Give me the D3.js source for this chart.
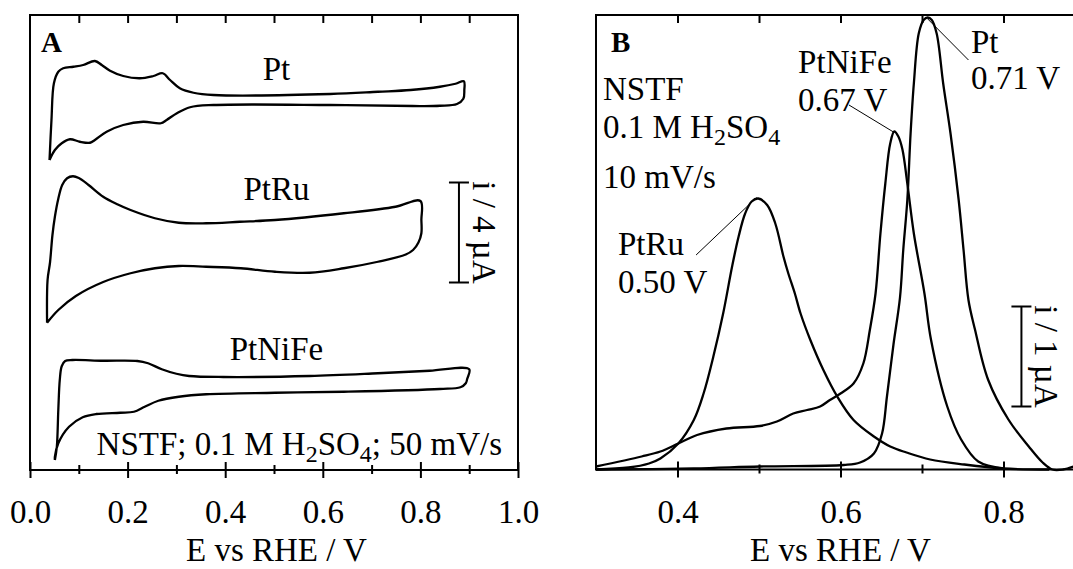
<!DOCTYPE html>
<html lang="en">
<head>
	<meta charset="UTF-8">
	<title>CV and CO stripping</title>
	<script src="https://cdn.jsdelivr.net/npm/d3@7"></script>
	<style>
		body { margin: 0; background: #fff; }
		text { font-family: "Liberation Serif", "Times New Roman", serif; fill: #000; }
	</style>
</head>
<body>
	<div id="container"></div>
	<script>
		var width = 1073, height = 569;

		// panel A: cyclic voltammograms (E / V, i / uA, curves stacked)
		var ptCV = [[0.040,12.40],[0.044,14.00],[0.049,15.47],[0.058,15.93],[0.068,16.07],[0.089,16.13],[0.109,16.20],[0.133,16.36],[0.147,16.20],[0.164,15.97],[0.191,15.76],[0.225,15.67],[0.253,15.76],[0.272,15.87],[0.287,15.60],[0.307,15.27],[0.335,15.09],[0.376,15.00],[0.615,15.04],[0.713,15.13],[0.780,15.20],[0.840,15.33],[0.872,15.45],[0.889,15.55],[0.890,15.20],[0.888,14.85],[0.875,14.64],[0.840,14.57],[0.784,14.56],[0.615,14.60],[0.376,14.60],[0.328,14.51],[0.301,14.27],[0.280,14.00],[0.268,13.87],[0.232,13.93],[0.191,13.80],[0.157,13.53],[0.133,13.20],[0.123,13.09],[0.102,13.13],[0.082,13.23],[0.065,13.07],[0.051,12.80],[0.040,12.40]];
		var ptruCV = [[0.035,5.89],[0.036,7.60],[0.041,8.30],[0.046,9.40],[0.051,10.13],[0.058,10.85],[0.066,11.40],[0.076,11.67],[0.088,11.75],[0.100,11.68],[0.120,11.40],[0.150,10.93],[0.180,10.62],[0.206,10.40],[0.256,10.07],[0.305,9.89],[0.361,9.87],[0.430,9.93],[0.502,10.00],[0.643,10.27],[0.749,10.53],[0.800,10.76],[0.802,10.00],[0.802,9.47],[0.796,9.10],[0.785,8.80],[0.770,8.62],[0.713,8.33],[0.643,8.07],[0.573,7.89],[0.502,7.93],[0.432,8.07],[0.361,8.13],[0.305,8.16],[0.256,8.07],[0.206,7.87],[0.150,7.52],[0.094,6.96],[0.058,6.40],[0.035,5.89]];
		var ptnifeCV = [[0.051,0.40],[0.055,0.93],[0.058,2.40],[0.061,3.60],[0.065,4.15],[0.072,4.36],[0.087,4.40],[0.150,4.37],[0.220,4.36],[0.242,4.27],[0.270,4.03],[0.300,3.85],[0.326,3.76],[0.396,3.72],[0.573,3.76],[0.713,3.87],[0.819,3.97],[0.900,4.03],[0.896,3.65],[0.893,3.47],[0.882,3.31],[0.840,3.24],[0.643,3.13],[0.502,3.09],[0.361,3.03],[0.305,2.93],[0.263,2.77],[0.235,2.53],[0.213,2.33],[0.185,2.29],[0.136,2.24],[0.108,2.11],[0.080,1.73],[0.058,1.07],[0.051,0.53],[0.051,0.40]];

		// panel B: CO stripping peaks
		var ptCO = [[0.300,0.00],[0.420,0.01],[0.501,0.03],[0.604,0.045],[0.624,0.07],[0.641,0.16],[0.651,0.36],[0.657,0.73],[0.665,1.25],[0.673,1.72],[0.677,2.195],[0.682,2.695],[0.686,3.36],[0.690,3.86],[0.696,4.36],[0.702,4.495],[0.707,4.52],[0.712,4.495],[0.718,4.36],[0.726,3.86],[0.735,3.36],[0.745,2.695],[0.751,2.195],[0.757,1.695],[0.765,1.40],[0.781,0.90],[0.806,0.50],[0.831,0.23],[0.848,0.07],[0.860,0.00],[0.873,0.00],[0.886,0.03]];
		var ptruCO = [[0.300,0.00],[0.340,0.02],[0.365,0.06],[0.379,0.11],[0.401,0.26],[0.420,0.495],[0.432,0.76],[0.444,1.13],[0.456,1.56],[0.467,2.03],[0.475,2.33],[0.483,2.56],[0.491,2.68],[0.499,2.71],[0.510,2.645],[0.520,2.46],[0.530,2.13],[0.536,1.96],[0.544,1.76],[0.551,1.56],[0.563,1.295],[0.579,0.995],[0.596,0.73],[0.616,0.495],[0.641,0.33],[0.661,0.23],[0.681,0.17],[0.710,0.10],[0.752,0.05],[0.800,0.01],[0.856,0.00]];
		var ptnifeCO = [[0.300,0.03],[0.356,0.13],[0.379,0.18],[0.401,0.26],[0.424,0.345],[0.460,0.41],[0.501,0.435],[0.522,0.48],[0.542,0.56],[0.559,0.595],[0.575,0.63],[0.587,0.695],[0.600,0.76],[0.616,0.86],[0.628,1.06],[0.636,1.395],[0.643,1.76],[0.649,2.36],[0.655,2.86],[0.661,3.26],[0.666,3.38],[0.671,3.33],[0.676,3.20],[0.682,2.86],[0.690,2.36],[0.703,1.76],[0.711,1.30],[0.731,0.63],[0.748,0.30],[0.769,0.08],[0.800,0.01]];

		var majorA = [0, 0.2, 0.4, 0.6, 0.8, 1.0];
		var minorA = [0.1, 0.3, 0.5, 0.7, 0.9];
		var majorB = [0.4, 0.6, 0.8];
		var minorB = [0.5, 0.7, 0.9];

		var cvNames = ["Pt", "PtRu", "PtNiFe"];
		var peakNames = ["Pt", "PtNiFe", "PtRu"];
		var peakLabels = ["0.71 V", "0.67 V", "0.50 V"];

		var svg = d3.select("#container").append("svg")
				.attr("width", width)
				.attr("height", height)
				.style("display", "block");
		svg.append("rect").attr("width", width).attr("height", height).attr("fill", "#fff");

		var xA = d3.scaleLinear().domain([0, 1]).range([30, 518]);
		var yA = d3.scaleLinear().domain([0, 18.2]).range([470, 15]);
		var xB = d3.scaleLinear().domain([0.3, 0.9]).range([596, 1085]);
		var yB = d3.scaleLinear().domain([0, 4.545]).range([469.5, 15]);

		var fs = 33;

		function frame(x, y) {
			svg.append("rect")
				.attr("x", x.range()[0]).attr("y", y.range()[1])
				.attr("width", x.range()[1] - x.range()[0])
				.attr("height", y.range()[0] - y.range()[1])
				.attr("fill", "none").attr("stroke", "#000").attr("stroke-width", 2);
		}

		function axes(x, y, major, minor, titleAt) {
			var base = y.range()[0], top = y.range()[1];
			var gb = svg.append("g").attr("transform", "translate(0," + base + ")")
				.call(d3.axisBottom(x).tickValues(major).tickSize(8).tickSizeOuter(0)
					.tickPadding(22).tickFormat(d3.format(".1f")));
			gb.selectAll(".tick line").attr("y1", -8).attr("stroke-width", 2);
			gb.selectAll(".tick text").attr("font-size", fs).attr("font-family", "Liberation Serif");
			gb.select(".domain").remove();

			var gm = svg.append("g").attr("transform", "translate(0," + base + ")")
				.call(d3.axisBottom(x).tickValues(minor).tickSize(4).tickSizeOuter(0).tickFormat(""));
			gm.selectAll(".tick line").attr("y1", -5).attr("stroke-width", 2);
			gm.select(".domain").remove();

			var gt = svg.append("g").attr("transform", "translate(0," + top + ")")
				.call(d3.axisBottom(x).tickValues(major.concat(minor).filter(function(v) {
						return v > x.domain()[0] && v < x.domain()[1]; }))
					.tickSize(8).tickSizeOuter(0).tickFormat(""));
			gt.selectAll(".tick line").attr("stroke-width", 2);
			gt.select(".domain").remove();

			svg.append("text")
				.attr("x", x(titleAt))
				.attr("y", 561)
				.attr("text-anchor", "middle").attr("font-size", fs)
				.text("E vs RHE / V");
		}

		function curve(x, y, data) {
			var line = d3.line()
				.x(function(d) { return x(d[0]); })
				.y(function(d) { return y(d[1]); })
				.curve(d3.curveCatmullRom.alpha(0.5));
			svg.append("path").datum(data)
				.attr("d", line)
				.attr("fill", "none").attr("stroke", "#000")
				.attr("stroke-width", 2.3).attr("stroke-linejoin", "round");
		}

		function scaleBar(x, y, xv, y0, y1, label) {
			var g = svg.append("g");
			g.append("line").attr("x1", x(xv)).attr("x2", x(xv)).attr("y1", y(y0)).attr("y2", y(y1));
			[y0, y1].forEach(function(v) {
				g.append("line").attr("x1", x(xv) - 10).attr("x2", x(xv) + 10).attr("y1", y(v)).attr("y2", y(v));
			});
			g.selectAll("line").attr("stroke", "#000").attr("stroke-width", 2);
			g.append("text")
				.attr("transform", "translate(" + (x(xv) + 25) + "," + y((y0 + y1) / 2) + ") rotate(90)")
				.attr("text-anchor", "middle").attr("dominant-baseline", "central")
				.attr("font-size", fs).text(label);
		}

		function formula(t, pre, post) {
			t.append("tspan").text(pre + "H");
			t.append("tspan").attr("font-size", 24).attr("dy", 7).text("2");
			t.append("tspan").attr("dy", -7).text("SO");
			t.append("tspan").attr("font-size", 24).attr("dy", 7).text("4");
			if (post) t.append("tspan").attr("dy", -7).text(post);
		}

		// ---- panel A
		frame(xA, yA);
		axes(xA, yA, majorA, minorA, 0.505);
		[ptCV, ptruCV, ptnifeCV].forEach(function(d) { curve(xA, yA, d); });

		svg.append("text").attr("x", 41).attr("y", 52).attr("font-size", 29)
			.attr("font-weight", "bold").text("A");
		var cvLabelY = [80, 200, 360];
		cvNames.forEach(function(n, i) {
			svg.append("text").attr("x", xA(0.505)).attr("y", cvLabelY[i])
				.attr("text-anchor", "middle").attr("font-size", fs).text(n);
		});
		var condA = svg.append("text").attr("x", 502).attr("y", 455)
			.attr("text-anchor", "end").attr("font-size", fs);
		formula(condA, "NSTF; 0.1 M ", "; 50 mV/s");
		scaleBar(xA, yA, 0.879, 7.5, 11.5, "i / 4 µA");

		// ---- panel B
		frame(xB, yB);
		axes(xB, yB, majorB, minorB, 0.6);
		[ptCO, ptnifeCO, ptruCO].forEach(function(d) { curve(xB, yB, d); });

		svg.append("text").attr("x", 611).attr("y", 52).attr("font-size", 29)
			.attr("font-weight", "bold").text("B");
		svg.append("text").attr("x", 603).attr("y", 100).attr("font-size", fs).text("NSTF");
		var condB = svg.append("text").attr("x", 603).attr("y", 138).attr("font-size", fs);
		formula(condB, "0.1 M ", "");
		svg.append("text").attr("x", 603).attr("y", 188).attr("font-size", fs).text("10 mV/s");

		// peak labels: [label E, name baseline, value baseline]; leaders: [E1, i1, E2, i2]
		var peakText = [[0.76, 53, 89], [0.548, 73, 111], [0.327, 255, 293]];
		var leaders = [[0.7065, 4.51, 0.757, 4.095], [0.6104, 3.645, 0.665, 3.375], [0.4228, 2.145, 0.497, 2.72]];
		peakNames.forEach(function(n, i) {
			svg.append("text").attr("x", xB(peakText[i][0])).attr("y", peakText[i][1])
				.attr("font-size", fs).text(n);
			svg.append("text").attr("x", xB(peakText[i][0])).attr("y", peakText[i][2])
				.attr("font-size", fs).text(peakLabels[i]);
			svg.append("line")
				.attr("x1", xB(leaders[i][0])).attr("y1", yB(leaders[i][1]))
				.attr("x2", xB(leaders[i][2])).attr("y2", yB(leaders[i][3]))
				.attr("stroke", "#000").attr("stroke-width", 1);
		});
		scaleBar(xB, yB, 0.822, 0.63, 1.63, "i / 1 µA");
	</script>
</body>
</html>
